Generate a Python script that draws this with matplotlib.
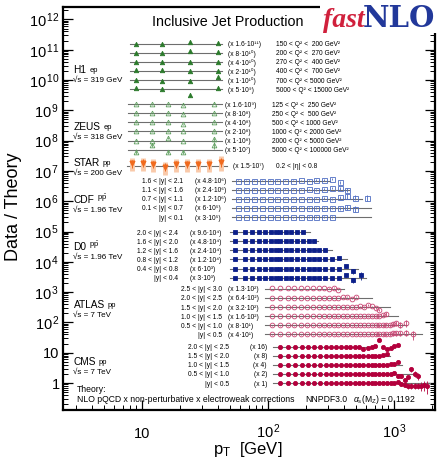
import numpy as np
import matplotlib
matplotlib.use("Agg")
import matplotlib.pyplot as plt
from matplotlib.ticker import LogLocator, FuncFormatter, NullFormatter
from matplotlib.transforms import blended_transform_factory
from matplotlib.patches import Rectangle

plt.rcParams['font.family'] = ['Liberation Sans', 'DejaVu Sans']
plt.rcParams['mathtext.fontset'] = 'custom'
plt.rcParams['mathtext.rm'] = 'Liberation Sans'
plt.rcParams['mathtext.it'] = 'Liberation Sans:italic'
plt.rcParams['mathtext.bf'] = 'Liberation Sans:bold'

# ---- data (ratio data/theory, multiplied by the row scale factor) ----
H1_PT = [9.0, 14.5, 24.0, 40.0]
H1_SCALE = [1.6e11, 8e10, 4e10, 2e10, 1e10, 5e9]
H1_MULT = ["(x 1.6·10¹¹)", "(x 8·10¹⁰)", "(x 4·10¹⁰)",
           "(x 2·10¹⁰)", "(x 1·10¹⁰)", "(x 5·10⁹)"]
H1_Q2 = ["150 < Q² <  200 GeV²", "200 < Q² <  270 GeV²",
         "270 < Q² <  400 GeV²", "400 < Q² <  700 GeV²",
         "700 < Q² < 5000 GeV²", "5000 < Q² < 15000 GeV²"]
H1_RATIO = [[1.0, 1.0, 1.15, 1.08],
            [1.0, 1.0, 1.12, 1.07],
            [0.97, 0.97, 0.97, 0.95],
            [1.04, 1.04, 0.98, 0.98],
            [1.0, 0.95, 0.92, 1.25],
            [1.1, 1.0, 0.64, 1.1]]
H1_ERR = [[0.03, 0.03, 0.05, 0.06],
          [0.03, 0.03, 0.05, 0.07],
          [0.03, 0.03, 0.05, 0.07],
          [0.03, 0.04, 0.05, 0.08],
          [0.04, 0.05, 0.06, 0.12],
          [0.06, 0.12, 0.16, 0.15]]

ZEUS_PT = [9.0, 12.0, 16.0, 21.0, 37.0]
ZEUS_SCALE = [1.6e9, 8e8, 4e8, 2e8, 1e8, 5e7]
ZEUS_MULT = ["(x 1.6·10⁹)", "(x 8·10⁸)", "(x 4·10⁸)",
             "(x 2·10⁸)", "(x 1·10⁸)", "(x 5·10⁷)"]
ZEUS_Q2 = ["125 < Q² <  250 GeV²", "250 < Q² <  500 GeV²",
           "500 < Q² < 1000 GeV²", "1000 < Q² < 2000 GeV²",
           "2000 < Q² < 5000 GeV²", "5000 < Q² < 100000 GeV²"]
ZEUS_RATIO = [[1.0, 1.0, 0.98, 0.93, 1.04],
              [1.0, 1.0, 1.0, 0.92, 1.0],
              [1.0, 1.0, 1.0, 0.88, 1.0],
              [1.0, 1.0, 1.03, 1.07, 1.0],
              [1.0, 1.0, 1.22, 1.0, 1.1],
              [0.87, 1.45, 0.87, 0.87, 1.4]]
ZEUS_ERR = [[0.03, 0.03, 0.03, 0.04, 0.05],
            [0.03, 0.03, 0.03, 0.04, 0.05],
            [0.03, 0.03, 0.04, 0.04, 0.05],
            [0.03, 0.03, 0.04, 0.05, 0.06],
            [0.04, 0.04, 0.06, 0.06, 0.1],
            [0.18, 0.15, 0.15, 0.15, 0.25]]

STAR_PT = [8.3, 10.1, 12.3, 15.2, 18.6, 22.6, 27.9, 34.2, 42.1]
STAR_SCALE = 1.5e7
STAR_RATIO = [1.19, 1.25, 1.1, 0.92, 1.1, 1.1, 1.1, 1.12, 1.34]
STAR_STAT = [0.3, 0.28, 0.27, 0.3, 0.27, 0.27, 0.28, 0.3, 0.35]
STAR_SYS = [0.45, 0.45, 0.45, 0.45, 0.45, 0.45, 0.45, 0.45, 0.5]

CDF_PT = [58, 67, 77.5, 89.5, 103, 118.5, 136.5, 157.5, 182, 209.5, 241.5,
          278.5, 321, 370, 426.5, 492, 613.5]
CDF_SCALE = [4.8e6, 2.4e6, 1.2e6, 6e5, 3e5]
CDF_YBINS = ["1.6 < |y| < 2.1", "1.1 < |y| < 1.6", "0.7 < |y| < 1.1",
             "0.1 < |y| < 0.7", "|y| < 0.1"]
CDF_MULT = ["(x 4.8·10⁶)", "(x 2.4·10⁶)", "(x 1.2·10⁶)",
            "(x 6·10⁵)", "(x 3·10⁵)"]
CDF_RATIO = [[1.0, 1.0, 0.98, 1.0, 1.0, 0.98, 1.0, 1.0, 1.02, 1.0, 1.03, 1.08, 1.12, 0.88],
             [1.0, 1.0, 1.0, 0.98, 1.0, 1.0, 1.0, 0.98, 1.0, 1.02, 1.0, 1.05, 1.12, 1.1, 1.0],
             [1.0, 1.0, 1.0, 1.0, 0.98, 1.0, 1.0, 1.0, 1.0, 1.0, 1.02, 1.05, 1.0, 1.12, 1.2, 1.1, 1.1],
             [1.0, 1.0, 1.0, 1.0, 1.0, 1.0, 0.98, 1.0, 1.0, 1.0, 1.0, 1.0, 1.02, 0.98, 1.05, 0.93],
             [1.0, 1.0, 1.0, 1.0, 1.0, 1.0, 1.0, 0.98, 1.0, 1.0, 1.0, 1.02, 1.03]]
CDF_ERR = [0.03, 0.03, 0.03, 0.03, 0.03, 0.03, 0.03, 0.04, 0.04, 0.05, 0.06,
           0.07, 0.09, 0.12, 0.16, 0.2, 0.25]
CDF_LINE_END = [310, 440, 560, 650, 650]

D0_PT = [55, 65, 75, 85, 95, 105, 115, 125, 137.5, 152.5, 170, 190, 210, 230,
         255, 285, 320, 365, 415, 470, 550]
D0_SCALE = [9.6e4, 4.8e4, 2.4e4, 1.2e4, 6e3, 3e3]
D0_YBINS = ["2.0 < |y| < 2.4", "1.6 < |y| < 2.0", "1.2 < |y| < 1.6",
            "0.8 < |y| < 1.2", "0.4 < |y| < 0.8", "|y| < 0.4"]
D0_MULT = ["(x 9.6·10⁴)", "(x 4.8·10⁴)", "(x 2.4·10⁴)",
           "(x 1.2·10⁴)", "(x 6·10³)", "(x 3·10³)"]
D0_RATIO = [[1.0, 1.0, 1.0, 1.0, 1.0, 1.0, 1.0, 1.0, 1.0, 1.0, 1.0, 1.0],
            [1.0, 1.0, 1.0, 1.0, 1.0, 1.0, 1.0, 1.0, 1.0, 1.0, 1.0, 1.0, 1.0, 1.0],
            [1.0, 1.0, 1.0, 1.0, 1.0, 1.0, 1.0, 1.0, 1.0, 1.0, 1.0, 1.0, 1.0, 1.0, 1.0, 1.0],
            [1.0, 1.0, 1.0, 1.0, 1.0, 1.0, 1.0, 1.0, 1.0, 1.0, 1.0, 1.0, 1.0, 1.0, 1.0, 1.0, 1.0, 1.08],
            [1.0, 1.0, 1.0, 1.0, 1.0, 1.0, 1.0, 1.0, 1.0, 1.0, 1.0, 1.0, 1.0, 1.0, 1.0, 1.0, 1.0, 1.0, 1.2, 0.8],
            [1.0, 1.0, 1.0, 1.0, 1.0, 1.0, 1.0, 1.0, 1.0, 1.0, 1.0, 1.0, 1.0, 1.0, 1.0, 1.0, 1.0, 1.0, 1.2, 0.82, 1.22]]
D0_ERR = [0.02, 0.02, 0.02, 0.02, 0.02, 0.02, 0.02, 0.02, 0.02, 0.03, 0.03,
          0.03, 0.04, 0.04, 0.05, 0.05, 0.06, 0.08, 0.12, 0.2, 0.3]
D0_LINE_END = [215, 250, 320, 420, 520, 600]

ATLAS_PT = [108, 125, 143, 162, 183, 205, 228, 252, 277, 304, 332, 361, 392,
            425, 460, 497, 536, 577, 620, 665, 712, 761, 812, 866, 923, 982,
            1044, 1119, 1236, 1420]
ATLAS_SCALE = [1.28e3, 6.4e2, 3.2e2, 1.6e2, 80, 40]
ATLAS_YBINS = ["2.5 < |y| < 3.0", "2.0 < |y| < 2.5", "1.5 < |y| < 2.0",
               "1.0 < |y| < 1.5", "0.5 < |y| < 1.0", "|y| < 0.5"]
ATLAS_MULT = ["(x 1.3·10²)", "(x 6.4·10²)", "(x 3.2·10²)",
              "(x 1.6·10²)", "(x 8·10¹)", "(x 4·10¹)"]
ATLAS_RATIO = [[1.05, 1.05, 1.05, 1.05, 1.05, 1.05, 1.05, 1.05, 1.05, 1.02, 1.1, 0.95],
               [1.0, 1.0, 1.0, 1.0, 1.0, 1.0, 1.0, 1.0, 1.0, 1.0, 1.0, 1.0, 1.05, 1.1, 0.95, 1.1],
               [1.0, 1.0, 1.0, 1.0, 1.0, 1.0, 1.0, 1.0, 1.0, 1.0, 1.0, 1.0, 1.0, 1.0, 1.0, 1.0,
                1.05, 1.0, 1.17, 1.05, 0.95, 0.8],
               [1.0, 1.0, 1.0, 1.0, 1.0, 1.0, 1.0, 1.0, 1.0, 1.0, 1.0, 1.0, 1.0, 1.0, 1.0, 1.0,
                1.0, 1.0, 1.03, 1.0, 1.05, 1.0, 1.1, 1.2],
               [1.0, 1.0, 1.0, 1.0, 1.0, 1.0, 1.0, 1.0, 1.0, 1.0, 1.0, 1.0, 1.0, 1.0, 1.0, 1.0,
                1.0, 1.0, 1.0, 1.0, 1.0, 1.0, 1.0, 1.05, 1.0, 1.1, 1.17, 1.05, 1.2],
               [1.0, 1.0, 1.0, 1.0, 1.0, 1.0, 1.0, 1.0, 1.0, 1.0, 1.0, 1.0, 1.0, 1.0, 1.0, 1.0,
                1.0, 1.0, 1.0, 1.0, 1.0, 1.0, 1.0, 1.03, 1.05, 1.08, 1.1, 1.12, 1.15, 1.0]]
ATLAS_ERR = [0.02, 0.02, 0.02, 0.02, 0.02, 0.02, 0.02, 0.02, 0.02, 0.03, 0.03,
             0.03, 0.03, 0.04, 0.04, 0.04, 0.05, 0.05, 0.06, 0.07, 0.08, 0.09,
             0.1, 0.12, 0.14, 0.16, 0.18, 0.2, 0.25, 0.35]
ATLAS_LINE_END = [400, 670, 930, 1080, 1260, 1660]

CMS_PT = [123.5, 143, 163.5, 185, 208, 232.5, 258.5, 286, 315, 346, 378.5,
          412.5, 449, 487.5, 527.5, 570, 615, 662, 711.5, 763.5, 818, 875.5,
          936, 999.5, 1066.5, 1136.5, 1210, 1287.5, 1368.5, 1453.5, 1542.5,
          1636, 1734, 1837]
CMS_SCALE = [16, 8, 4, 2, 1]
CMS_YBINS = ["2.0 < |y| < 2.5", "1.5 < |y| < 2.0", "1.0 < |y| < 1.5",
             "0.5 < |y| < 1.0", "|y| < 0.5"]
CMS_MULT = ["(x 16)", "(x 8)", "(x 4)", "(x 2)", "(x 1)"]
CMS_RATIO = [[1.0, 1.0, 1.0, 1.0, 1.0, 1.0, 1.0, 1.0, 1.0, 1.0, 1.0, 1.0, 1.0, 1.0, 1.0,
              0.8, 0.9, 1.0, 1.05, 1.6, 1.0, 0.8, 0.9, 1.05, 1.12],
             [1.0, 1.0, 1.0, 1.0, 1.0, 1.0, 1.0, 1.0, 1.0, 1.0, 1.0, 1.0, 1.0, 1.0, 1.0,
              1.0, 1.0, 1.0, 1.0, 1.0, 1.05, 1.15],
             [1.0, 1.0, 1.0, 1.0, 1.0, 1.0, 1.0, 1.0, 1.0, 1.0, 1.0, 1.0, 1.0, 1.0, 1.0,
              1.0, 1.0, 1.0, 1.0, 1.0, 1.0, 1.0, 1.05, 1.1, 1.27],
             [1.0, 1.0, 1.0, 1.0, 1.0, 1.0, 1.0, 1.0, 1.0, 1.0, 1.0, 1.0, 1.0, 1.0, 1.0,
              1.0, 1.0, 1.0, 1.0, 1.0, 1.0, 1.0, 1.0, 1.05, 0.85, 0.85, 0.62, 0.8, 1.43,
              1.0, 0.85],
             [1.0, 1.0, 1.0, 1.0, 1.0, 1.0, 1.0, 1.0, 1.0, 1.0, 1.0, 1.0, 1.0, 1.0, 1.0,
              1.0, 1.0, 1.0, 1.0, 1.0, 1.0, 1.0, 1.0, 1.0, 1.05, 0.95, 0.85, 0.8, 0.82,
              0.8, 0.82, 0.8, 0.85, 0.8]]
CMS_ERR = [0.02, 0.02, 0.02, 0.02, 0.02, 0.02, 0.02, 0.02, 0.02, 0.02, 0.02,
           0.02, 0.03, 0.03, 0.03, 0.03, 0.04, 0.04, 0.05, 0.05, 0.06, 0.07,
           0.08, 0.1, 0.12, 0.14, 0.16, 0.18, 0.2, 0.22, 0.25, 0.3, 0.35, 0.45]
CMS_LINE_END = [720, 930, 1160, 1550, 1920]

X_TICKS = [10, 100, 1000]
X_TICKLABELS = ['10', r'10$^{\,2}$', r'10$^{\,3}$']

# ---- figure ----
W, H = 439, 461
fig = plt.figure(figsize=(W / 100, H / 100), dpi=100)
ax = fig.add_axes([63 / W, 1 - 410 / H, 372 / W, 403 / H])
ax.set_xscale('log')
ax.set_yscale('log')
ax.set_xlim(2.36, 2110)
ax.set_ylim(0.1285, 2.57e12)

LINE_C = '#6e6e6e'


def draw_rows(pt, ratios, errs, scales, lo, his, color, marker, ms, filled=True):
    for r, e, s, hi in zip(ratios, errs, scales, his):
        n = len(r)
        x = np.array(pt[:n], dtype=float)
        y = np.array(r) * s
        ye = np.array(e[:n]) * y
        ax.plot([lo, hi], [s, s], color=LINE_C, lw=0.8, zorder=2)
        ax.errorbar(x, y, yerr=ye, fmt=marker, color=color, ms=ms,
                    mfc=color if filled else 'none', mec=color, mew=0.6,
                    elinewidth=0.6, capsize=0, zorder=3)


draw_rows(H1_PT, H1_RATIO, H1_ERR, H1_SCALE, 8.0, [43] * 6, '#2b7a2b', '^', 3.2)
draw_rows(ZEUS_PT, ZEUS_RATIO, ZEUS_ERR, ZEUS_SCALE, 7.7, [43] * 6, '#5f9f5f', '^', 3.4, filled=False)

# STAR with light systematic bands
sx = np.array(STAR_PT)
sy = np.array(STAR_RATIO) * STAR_SCALE
ax.plot([7.6, 47], [STAR_SCALE, STAR_SCALE], color=LINE_C, lw=0.8, zorder=2)
ax.errorbar(sx, sy, yerr=np.array(STAR_SYS) * sy, fmt='none', ecolor='#f9c9a9',
            elinewidth=3.5, capsize=0, zorder=2.5)
ax.errorbar(sx, sy, yerr=np.array(STAR_STAT) * sy, fmt='v', color='#f06a1e', ms=3.4,
            elinewidth=0.7, capsize=0, zorder=3)

draw_rows(CDF_PT, CDF_RATIO, [CDF_ERR] * 5, CDF_SCALE, 52, CDF_LINE_END, '#4d6cc2', 's', 3.6, filled=False)
draw_rows(D0_PT, D0_RATIO, [D0_ERR] * 6, D0_SCALE, 50, D0_LINE_END, '#0c1f8a', 's', 3.4)
draw_rows(ATLAS_PT, ATLAS_RATIO, [ATLAS_ERR] * 6, ATLAS_SCALE, 95, ATLAS_LINE_END, '#c84472', 'o', 3.4, filled=False)
draw_rows(CMS_PT, CMS_RATIO, [CMS_ERR] * 5, CMS_SCALE, 110, CMS_LINE_END, '#b3003c', 'o', 3.0)

# ---- axes styling ----
ax.xaxis.set_major_locator(LogLocator(base=10, numticks=10))
ax.xaxis.set_minor_locator(LogLocator(base=10, subs=np.arange(2, 10), numticks=50))
ax.yaxis.set_major_locator(LogLocator(base=10, numticks=30))
ax.yaxis.set_minor_locator(LogLocator(base=10, subs=np.arange(2, 10), numticks=300))
ax.xaxis.set_minor_formatter(NullFormatter())
ax.yaxis.set_minor_formatter(NullFormatter())


def yfmt(v, pos):
    e = int(round(np.log10(v)))
    if e == 0:
        return '1'
    if e == 1:
        return '10'
    return r'10$^{\,%d}$' % e


ax.yaxis.set_major_formatter(FuncFormatter(yfmt))
ax.tick_params(which='both', direction='in', right=True, top=False)
ax.tick_params(which='major', length=7, width=0.9, labelsize=10.5)
ax.tick_params(which='minor', length=3.5, width=0.7)
ax.tick_params(axis='y', which='major', pad=2.5)
ax.tick_params(axis='x', labelbottom=False)
for sp in ax.spines.values():
    sp.set_linewidth(1.6)

# x tick labels on a common baseline
xtrans = blended_transform_factory(ax.transData, fig.transFigure)
for xv, lab in zip(X_TICKS, X_TICKLABELS):
    ax.text(xv, 1 - 438 / H, lab, transform=xtrans, fontsize=10.5,
            ha='center', va='baseline')

fig.text(14 / W, 1 - 207 / H, 'Data / Theory', rotation=90, fontsize=13,
         ha='center', va='center')
fig.text(248 / W, 1 - 449 / H, r'p$_{\mathrm{T}}$  [GeV]', fontsize=12,
         ha='center', va='center')
fig.text(228 / W, 1 - 22 / H, 'Inclusive Jet Production', fontsize=10.3,
         ha='center', va='center')


def ftext(px, py, s, **kw):
    return fig.text(px / W, 1 - py / H, s, **kw)


def experiment(py, name, beam, sqrt_s):
    t = ftext(73.5, py, name, fontsize=7.3, va='center', ha='left')
    ax.annotate(beam, xy=(1, 0), xycoords=t, xytext=(2, 0.5),
                textcoords='offset points', fontsize=5.5, va='bottom', ha='left')
    ftext(73.5, py + 10.5, sqrt_s, fontsize=5.8, va='center', ha='left')


experiment(70, 'H1', 'ep', '√s = 319 GeV')
experiment(126.5, 'ZEUS', 'ep', '√s = 318 GeV')
experiment(163, 'STAR', 'pp', '√s = 200 GeV')
experiment(200, 'CDF', r'p$\bar{\mathrm{p}}$', '√s = 1.96 TeV')
experiment(247, 'D0', r'p$\bar{\mathrm{p}}$', '√s = 1.96 TeV')
experiment(305, 'ATLAS', 'pp', '√s = 7 TeV')
experiment(362, 'CMS', 'pp', '√s = 7 TeV')

trans = blended_transform_factory(fig.transFigure, ax.transData)


def row_labels(scales, left_texts, left_x, left_ha, right_texts, right_x, right_ha):
    for s, lt, rt in zip(scales, left_texts, right_texts):
        ax.text(left_x / W, s, lt, transform=trans, fontsize=4.8, ha=left_ha,
                va='center_baseline')
        ax.text(right_x / W, s, rt, transform=trans, fontsize=4.8, ha=right_ha,
                va='center_baseline')


row_labels(H1_SCALE, H1_MULT, 228, 'left', H1_Q2, 276, 'left')
row_labels(ZEUS_SCALE, ZEUS_MULT, 225, 'left', ZEUS_Q2, 272, 'left')
row_labels([STAR_SCALE], ["(x 1.5·10⁷)"], 233, 'left', ["0.2 < |η| < 0.8"], 276, 'left')
row_labels(CDF_SCALE, CDF_YBINS, 183, 'right', CDF_MULT, 195, 'left')
row_labels(D0_SCALE, D0_YBINS, 178, 'right', D0_MULT, 190, 'left')
row_labels(ATLAS_SCALE, ATLAS_YBINS, 222, 'right', ATLAS_MULT, 228, 'left')
row_labels(CMS_SCALE, CMS_YBINS, 229, 'right', CMS_MULT, 267, 'right')

ftext(77, 389, 'Theory:', fontsize=6.2, va='center')
ftext(77, 399.5, 'NLO pQCD x non-perturbative x electroweak corrections', fontsize=6.2, va='center')
ftext(305, 399.5, 'NNPDF3.0', fontsize=6.2, va='center')
ftext(353, 399.5, r'$\alpha_{\mathrm{s}}$(M$_{\mathrm{Z}}$) = 0.1192', fontsize=6.2, va='center')

# fastNLO logo over the top-right corner
fig.add_artist(Rectangle((320 / W, 1 - 33 / H), 119 / W, 33 / H, transform=fig.transFigure,
                         facecolor='white', edgecolor='none', zorder=5))
ftext(365, 27, 'fast', fontfamily='Liberation Serif', fontweight='bold', fontstyle='italic',
      color='#d0203c', fontsize=20, ha='right', va='baseline', zorder=6)
ftext(363, 27, 'NLO', fontfamily='DejaVu Serif', fontweight='bold',
      color='#22389a', fontsize=21, ha='left', va='baseline', zorder=6)

fig.savefig('out.png', dpi=100)
